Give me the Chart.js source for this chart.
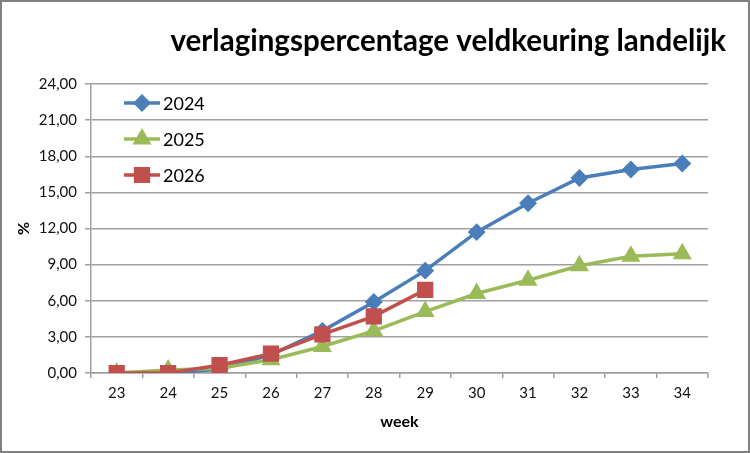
<!DOCTYPE html>
<html>
<head>
<meta charset="utf-8">
<script src="https://cdn.jsdelivr.net/npm/chart.js@4/dist/chart.umd.min.js"></script>
<style>
html,body{margin:0;padding:0;background:#fff;}
#wrap{width:750px;height:453px;position:relative;}
</style>
</head>
<body>
<div id="wrap"><canvas id="c" width="750" height="453"></canvas></div>
<script>
const chartTitle = 'verlagingspercentage veldkeuring landelijk';
const weeks = ['23','24','25','26','27','28','29','30','31','32','33','34'];
const seriesNames = ['2024','2025','2026'];
const v2024 = [0, 0, 0.3, 1.5, 3.5, 5.9, 8.5, 11.7, 14.1, 16.2, 16.9, 17.4];
const v2025 = [0, 0.25, 0.4, 1.1, 2.2, 3.5, 5.1, 6.6, 7.7, 8.9, 9.7, 9.9];
const v2026 = [0, 0, 0.65, 1.6, 3.2, 4.7, 6.9];
const yMin = 0, yMax = 24, yStep = 3;
const xTitle = 'week';
const yTitle = '%';

const FONT = 'Lato, "Open Sans", sans-serif';
const PLOT_LEFT = 91, PLOT_RIGHT = 708, PLOT_TOP = 84, PLOT_BOTTOM = 373;
const PAD_BOTTOM = 22;

const frameAndText = {
  id: 'frameAndText',
  afterDraw(chart) {
    const ctx = chart.ctx;
    ctx.save();
    // title
    ctx.fillStyle = '#000';
    ctx.font = 'bold 29.5px ' + FONT;
    ctx.textAlign = 'right';
    ctx.textBaseline = 'alphabetic';
    ctx.fillText(chartTitle, 726, 51);
    // legend
    const rows = [103, 139, 175];
    chart.data.datasets.forEach((ds, i) => {
      const y = rows[i];
      ctx.strokeStyle = ds.borderColor;
      ctx.lineWidth = 3.5;
      ctx.beginPath();
      ctx.moveTo(124, y);
      ctx.lineTo(160, y);
      ctx.stroke();
      ctx.fillStyle = ds.pointBackgroundColor;
      ctx.strokeStyle = ds.pointBorderColor;
      Chart.helpers.drawPoint(ctx, {pointStyle: ds.pointStyle, radius: ds.pointRadius, rotation: 0, borderWidth: 1}, 142, y);
      ctx.fillStyle = '#000';
      ctx.font = '18px ' + FONT;
      ctx.textAlign = 'left';
      ctx.textBaseline = 'middle';
      ctx.fillText(ds.label, 163, y + 1);
    });
    // frame
    ctx.strokeStyle = '#808080';
    ctx.lineWidth = 2;
    ctx.strokeRect(1, 1, 748, 451);
    ctx.restore();
  }
};

const fmt = v => Number(v).toFixed(2).replace('.', ',');

new Chart(document.getElementById('c'), {
  type: 'line',
  data: {
    labels: weeks,
    datasets: [
      {label: seriesNames[0], data: v2024, borderColor: '#4A7EBB', backgroundColor: '#4A7EBB',
       pointBackgroundColor: '#4A7EBB', pointBorderColor: '#4A7EBB', pointStyle: 'rectRot', pointRadius: 6.5,
       borderWidth: 3.5, tension: 0, order: 3},
      {label: seriesNames[1], data: v2025, borderColor: '#9BBB59', backgroundColor: '#9BBB59',
       pointBackgroundColor: '#9BBB59', pointBorderColor: '#9BBB59', pointStyle: 'triangle', pointRadius: 7.5,
       borderWidth: 3.5, tension: 0, order: 2},
      {label: seriesNames[2], data: v2026, borderColor: '#C0504D', backgroundColor: '#C0504D',
       pointBackgroundColor: '#C0504D', pointBorderColor: '#C0504D', pointStyle: 'rect', pointRadius: 9,
       borderWidth: 3.5, tension: 0, order: 1}
    ]
  },
  options: {
    responsive: false,
    animation: false,
    events: [],
    layout: {padding: {left: 10, top: PLOT_TOP, right: 750 - PLOT_RIGHT, bottom: PAD_BOTTOM}},
    plugins: {
      legend: {display: false},
      title: {display: false},
      tooltip: {enabled: false}
    },
    scales: {
      x: {
        type: 'category',
        offset: true,
        grid: {display: true, drawOnChartArea: false, offset: true, color: '#a0a0a0', lineWidth: 1.5, tickLength: 5, tickColor: '#a0a0a0'},
        border: {display: true, color: '#a0a0a0', width: 1.5},
        ticks: {color: '#111', font: {family: FONT, size: 15}, padding: 6, maxRotation: 0, autoSkip: false},
        title: {display: true, text: xTitle, color: '#000', font: {family: FONT, size: 16, weight: 'bold'}, padding: {top: 4, bottom: 0}},
        afterFit(scale) { scale.height = 453 - PLOT_BOTTOM - PAD_BOTTOM; }
      },
      y: {
        min: yMin, max: yMax,
        ticks: {stepSize: yStep, callback: v => fmt(v), color: '#111', font: {family: FONT, size: 15}, padding: 8},
        grid: {color: '#a0a0a0', lineWidth: 1.5, tickLength: 6, tickColor: '#a0a0a0'},
        border: {display: true, color: '#a0a0a0', width: 1.5},
        title: {display: true, text: yTitle, color: '#000', font: {family: FONT, size: 16, weight: 'bold'}, padding: {top: 4, bottom: 0}},
        afterFit(scale) { scale.width = PLOT_LEFT - 10; }
      }
    }
  },
  plugins: [frameAndText]
});
</script>
</body>
</html>
